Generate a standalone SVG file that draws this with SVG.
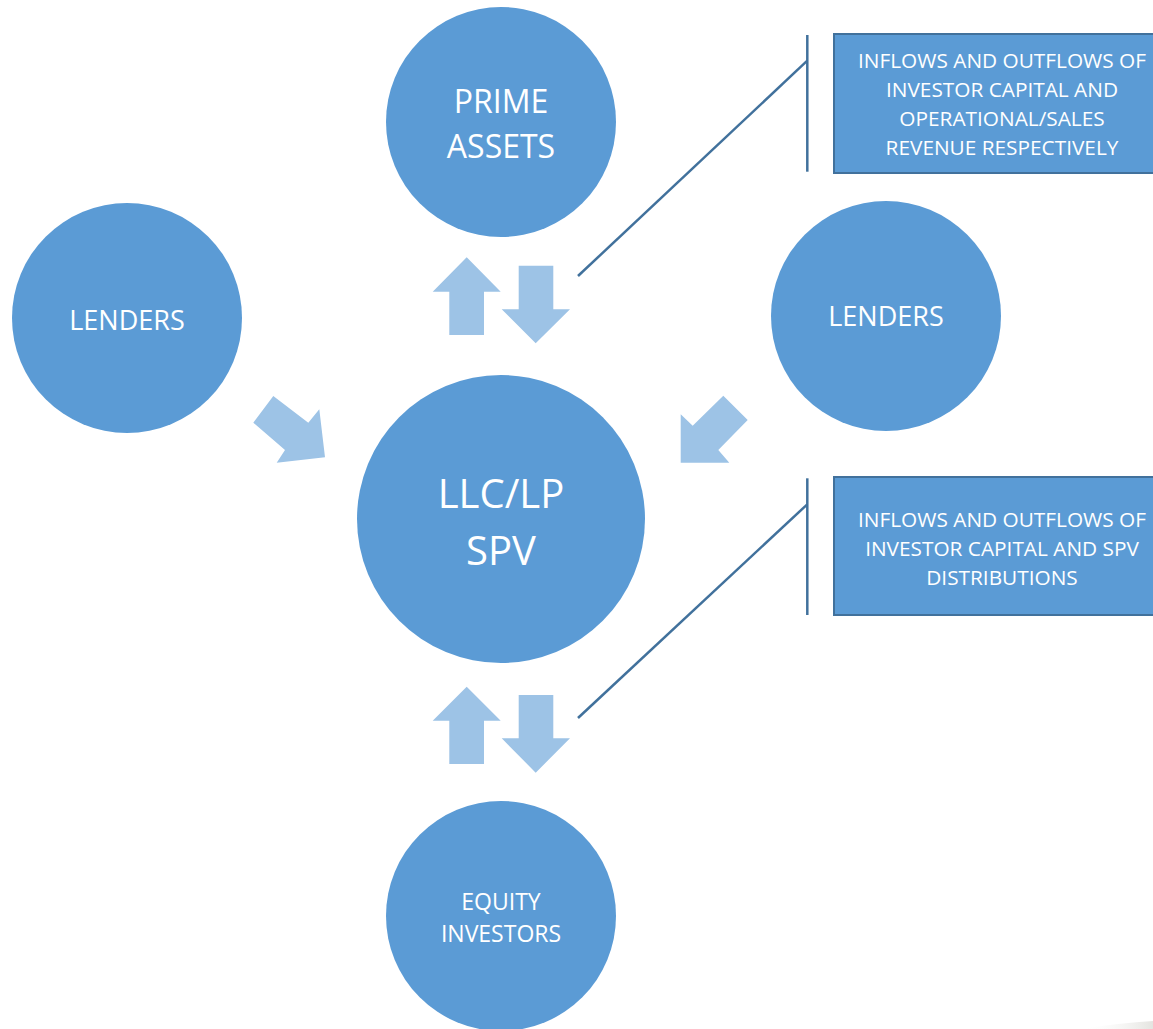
<svg xmlns="http://www.w3.org/2000/svg" width="1153" height="1029" viewBox="0 0 1153 1029">
<defs>
<style>
.node{fill:#5B9BD5;}
.arrow{fill:#9DC3E6;}
.line{stroke:#41719C;stroke-width:2.5;fill:none;}
.box{fill:#5B9BD5;stroke:#41719C;stroke-width:2;}
text{font-family:"Open Sans","Liberation Sans",sans-serif;fill:#FFFFFF;text-anchor:middle;}
.note{font-size:20.8px;}
</style>
<linearGradient id="shade" x1="0" y1="0" x2="1" y2="0">
<stop offset="0" stop-color="#FFFFFF" stop-opacity="0"/>
<stop offset="1" stop-color="#E4E4E0"/>
</linearGradient>
</defs>
<rect width="1153" height="1029" fill="#FFFFFF"/>
<path d="M1080,1029 Q1120,1023 1153,1021 L1153,1029 Z" fill="url(#shade)"/>
<g id="prime-assets">
<circle class="node" cx="501" cy="122" r="115"/>
<text x="501" y="113" font-size="32">PRIME</text>
<text x="501" y="158" font-size="32">ASSETS</text>
</g>
<g id="lenders-left">
<circle class="node" cx="127" cy="318" r="115"/>
<text x="127" y="329.5" font-size="27">LENDERS</text>
</g>
<g id="lenders-right">
<circle class="node" cx="886" cy="316" r="115"/>
<text x="886" y="325.5" font-size="27">LENDERS</text>
</g>
<g id="spv">
<circle class="node" cx="501" cy="519" r="144"/>
<text x="501" y="508" font-size="40">LLC/LP</text>
<text x="501" y="565" font-size="40">SPV</text>
</g>
<g id="equity-investors">
<circle class="node" cx="501" cy="916" r="115"/>
<text x="501" y="910" font-size="23">EQUITY</text>
<text x="501" y="942" font-size="23">INVESTORS</text>
</g>
<g id="note-top">
<rect class="box" x="834" y="34" width="330" height="139"/>
<text class="note" x="1002" y="67.5">INFLOWS AND OUTFLOWS OF</text>
<text class="note" x="1002" y="96.5">INVESTOR CAPITAL AND</text>
<text class="note" x="1002" y="125.5">OPERATIONAL/SALES</text>
<text class="note" x="1002" y="154.5">REVENUE RESPECTIVELY</text>
</g>
<g id="note-bottom">
<rect class="box" x="834" y="477" width="330" height="138"/>
<text class="note" x="1002" y="527">INFLOWS AND OUTFLOWS OF</text>
<text class="note" x="1002" y="556">INVESTOR CAPITAL AND SPV</text>
<text class="note" x="1002" y="585">DISTRIBUTIONS</text>
</g>
<g id="connectors">
<polygon class="arrow" points="466.7,257.3 500.7,291.7 484,291.7 484,335 449.3,335 449.3,291.7 432.7,291.7"/>
<polygon class="arrow" points="518.7,265.7 553.3,265.7 553.3,309.3 570,309.3 535.7,343.3 501.7,309.3 518.7,309.3"/>
<polygon class="arrow" points="466.7,686.7 500.7,720.7 484,720.7 484,764 449.3,764 449.3,720.7 432.7,720.7"/>
<polygon class="arrow" points="518.7,695 553.3,695 553.3,738.3 570,738.3 535.7,772.7 501.7,738.3 518.7,738.3"/>
<polygon class="arrow" points="273.3,396 308.3,422.7 319.3,409.3 325,457.3 276.7,462.7 285,450 253.3,422.7"/>
<polygon class="arrow" points="723.3,395.7 747.7,420 718.3,450 729.3,462.7 680.7,462.7 680.7,414.3 692.7,425.7"/>
<line class="line" x1="807.3" y1="35" x2="807.3" y2="171.7"/>
<line class="line" x1="578" y1="276" x2="807.3" y2="60.7"/>
<line class="line" x1="807.3" y1="478.3" x2="807.3" y2="615"/>
<line class="line" x1="578" y1="718" x2="807.3" y2="504.3"/>
</g>
</svg>
